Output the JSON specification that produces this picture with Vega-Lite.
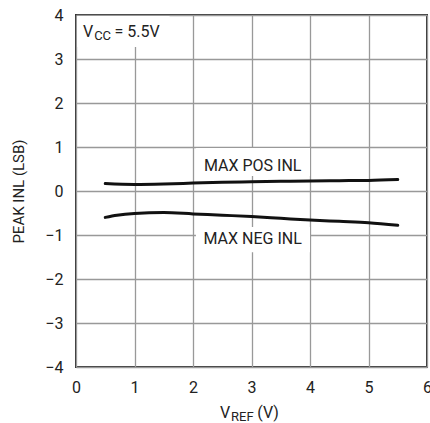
{
  "$schema": "https://vega.github.io/schema/vega-lite/v6.json",
  "width": 351,
  "height": 352,
  "autosize": {"type": "none"},
  "padding": {"left": 76, "top": 15, "right": 3, "bottom": 56},
  "background": "white",
  "config": {
    "font": "Roboto, sans-serif",
    "view": {"stroke": "#333333", "strokeWidth": 2},
    "axis": {
      "labelFont": "Roboto, sans-serif",
      "titleFont": "Roboto, sans-serif",
      "labelColor": "#222222",
      "titleColor": "#222222",
      "gridColor": "#999999",
      "gridWidth": 1.3,
      "gridOpacity": 1,
      "domain": false,
      "ticks": false
    }
  },
  "datasets": {
    "curves": [
      {"vref": 0.5, "inl": 0.17, "series": "pos"},
      {"vref": 1.0, "inl": 0.15, "series": "pos"},
      {"vref": 1.5, "inl": 0.16, "series": "pos"},
      {"vref": 2.0, "inl": 0.18, "series": "pos"},
      {"vref": 2.5, "inl": 0.2, "series": "pos"},
      {"vref": 3.0, "inl": 0.21, "series": "pos"},
      {"vref": 3.5, "inl": 0.22, "series": "pos"},
      {"vref": 4.0, "inl": 0.23, "series": "pos"},
      {"vref": 4.5, "inl": 0.235, "series": "pos"},
      {"vref": 5.0, "inl": 0.24, "series": "pos"},
      {"vref": 5.5, "inl": 0.26, "series": "pos"},
      {"vref": 0.5, "inl": -0.6, "series": "neg"},
      {"vref": 0.7, "inl": -0.55, "series": "neg"},
      {"vref": 1.0, "inl": -0.51, "series": "neg"},
      {"vref": 1.5, "inl": -0.49, "series": "neg"},
      {"vref": 2.0, "inl": -0.52, "series": "neg"},
      {"vref": 2.5, "inl": -0.55, "series": "neg"},
      {"vref": 3.0, "inl": -0.58, "series": "neg"},
      {"vref": 3.5, "inl": -0.62, "series": "neg"},
      {"vref": 4.0, "inl": -0.66, "series": "neg"},
      {"vref": 4.5, "inl": -0.69, "series": "neg"},
      {"vref": 5.0, "inl": -0.72, "series": "neg"},
      {"vref": 5.5, "inl": -0.78, "series": "neg"}
    ],
    "boxes": [
      {"x1": 0.02, "x2": 1.6, "y1": 3.98, "y2": 3.27},
      {"x1": 2.05, "x2": 4.0, "y1": 0.98, "y2": 0.34},
      {"x1": 2.05, "x2": 4.0, "y1": -0.82, "y2": -1.39}
    ],
    "labels": [
      {"x": 3.02, "y": 0.46, "text": "MAX POS INL"},
      {"x": 3.02, "y": -1.2, "text": "MAX NEG INL"}
    ],
    "mainText": [
      {"x": 0.12, "y": 3.5, "text": "V"},
      {"x": 0.66, "y": 3.5, "text": "= 5.5V"},
      {"x": 2.46, "y": -5.16, "text": "V"},
      {"x": 3.1, "y": -5.16, "text": "(V)"}
    ],
    "subText": [
      {"x": 0.31, "y": 3.43, "text": "CC"},
      {"x": 2.65, "y": -5.23, "text": "REF"}
    ]
  },
  "layer": [
    {
      "data": {"name": "curves"},
      "mark": {"type": "line", "color": "#111111", "strokeWidth": 3, "interpolate": "monotone", "strokeCap": "round"},
      "encoding": {
        "x": {
          "field": "vref", "type": "quantitative",
          "scale": {"domain": [0, 6], "nice": false, "zero": false},
          "axis": {"values": [0, 1, 2, 3, 4, 5, 6], "format": "d", "title": null, "labelFontSize": 16, "labelPadding": 12, "labelFlush": false}
        },
        "y": {
          "field": "inl", "type": "quantitative",
          "scale": {"domain": [-4, 4], "nice": false},
          "axis": {"values": [-4, -3, -2, -1, 0, 1, 2, 3, 4], "format": "d", "title": "PEAK INL (LSB)", "titleFontSize": 15, "titleFontWeight": "normal", "titlePadding": 18, "labelFontSize": 16, "labelPadding": 13}
        },
        "detail": {"field": "series"}
      }
    },
    {
      "data": {"name": "boxes"},
      "mark": {"type": "rect", "color": "white"},
      "encoding": {
        "x": {"field": "x1", "type": "quantitative"},
        "x2": {"field": "x2"},
        "y": {"field": "y1", "type": "quantitative"},
        "y2": {"field": "y2"}
      }
    },
    {
      "data": {"name": "labels"},
      "mark": {"type": "text", "fontSize": 16, "align": "center", "baseline": "alphabetic", "color": "#222222"},
      "encoding": {
        "x": {"field": "x", "type": "quantitative"},
        "y": {"field": "y", "type": "quantitative"},
        "text": {"field": "text"}
      }
    },
    {
      "data": {"name": "mainText"},
      "mark": {"type": "text", "fontSize": 16, "align": "left", "baseline": "alphabetic", "color": "#222222"},
      "encoding": {
        "x": {"field": "x", "type": "quantitative"},
        "y": {"field": "y", "type": "quantitative"},
        "text": {"field": "text"}
      }
    },
    {
      "data": {"name": "subText"},
      "mark": {"type": "text", "fontSize": 13, "align": "left", "baseline": "alphabetic", "color": "#222222"},
      "encoding": {
        "x": {"field": "x", "type": "quantitative"},
        "y": {"field": "y", "type": "quantitative"},
        "text": {"field": "text"}
      }
    }
  ]
}
